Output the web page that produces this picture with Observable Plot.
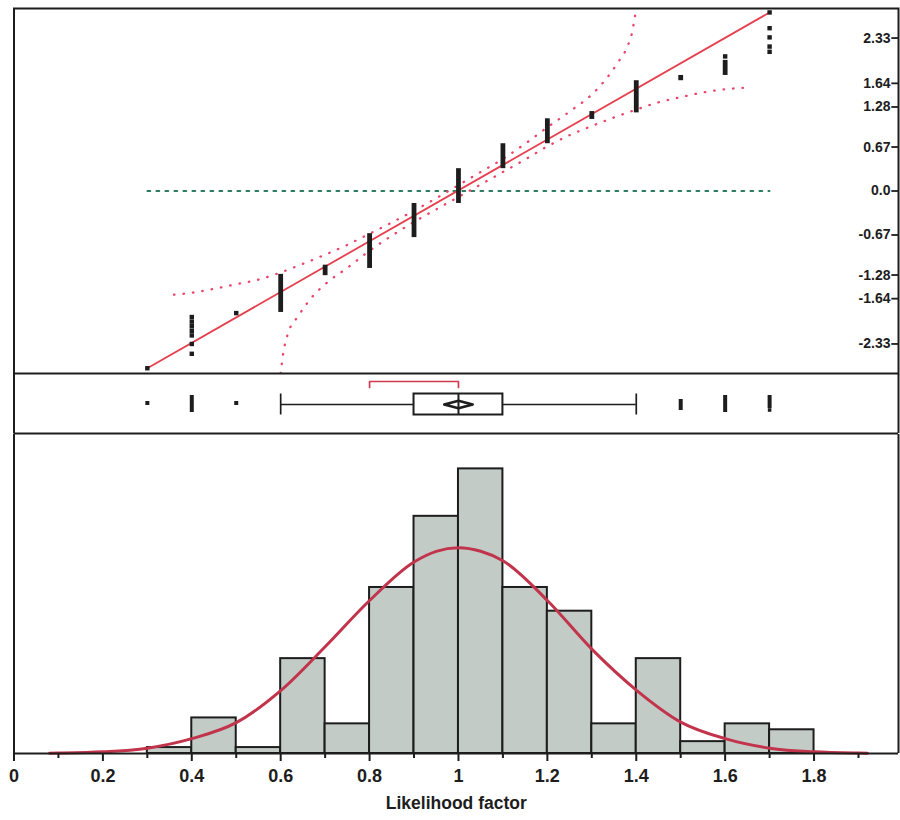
<!DOCTYPE html>
<html><head><meta charset="utf-8">
<script src="https://cdn.jsdelivr.net/npm/d3@7"></script>
<script src="https://cdn.jsdelivr.net/npm/@observablehq/plot@0.6"></script>
<style>
html,body{margin:0;padding:0;background:#fff;}
#chart svg{display:block;}
</style></head><body><div id="chart"></div>
<script>
// ---------------- data ----------------
// Histogram (values recorded at 0.1 steps; bins of width 0.1)
const binStarts = [0.3,0.4,0.5,0.6,0.7,0.8,0.9,1.0,1.1,1.2,1.3,1.4,1.5,1.6,1.7];
const binCounts = [1,6,1,16,5,28,40,48,28,24,5,16,2,5,4];
const binWidth = 0.1;

// Fitted normal curve (count scale)
const curveX = [0.08,0.1,0.2,0.3,0.4,0.5,0.6,0.7,0.8,0.9,0.95,1.0,1.05,1.1,1.2,1.3,1.4,1.5,1.6,1.7,1.8,1.9,1.92];
const curveY = [0.06,0.08,0.28,0.9,2.5,5.2,10.6,18.0,25.8,32.3,34.1,34.7,34.1,32.5,25.8,17.6,10.7,5.3,2.5,0.9,0.28,0.08,0.06];

// Normal quantile plot: stacked runs of tied values (normal quantile range)
const qqStackX  = [0.6, 0.7, 0.8, 0.9, 1.0, 1.1, 1.2, 1.3, 1.4, 1.5, 1.6];
const qqStackLo = [-1.85,-1.29,-1.18,-0.71,-0.19,0.34,0.72,1.09,1.19,1.68,1.76];
const qqStackHi = [-1.27,-1.13,-0.65,-0.19,0.34,0.72,1.10,1.21,1.68,1.76,1.99];
// single points
const qqDotX = [0.3, 0.4,0.4,0.4,0.4,0.4,0.4,0.4, 0.5, 1.6, 1.7,1.7,1.7,1.7,1.7];
const qqDotZ = [-2.70, -1.92,-1.99,-2.06,-2.13,-2.20,-2.33,-2.48, -1.86, 2.05, 2.72,2.48,2.34,2.20,2.12];

// Fitted normal line and the zero reference line
const fitLineX = [0.3, 1.7];
const fitLineZ = [-2.70, 2.72];
const refLineX = [0.3, 1.7];

// Confidence bands (dotted)
const bandUpperX = [0.36,0.40,0.45,0.50,0.55,0.60,0.65,0.70,0.75,0.80,0.85,0.90,0.95,1.00,1.05,1.10,1.15,1.20,1.25,1.30,1.33,1.36,1.38,1.39,1.395,1.40];
const bandUpperZ = [-1.58,-1.55,-1.49,-1.42,-1.35,-1.24,-1.11,-0.97,-0.82,-0.65,-0.48,-0.30,-0.11,0.09,0.29,0.49,0.72,0.97,1.21,1.47,1.69,1.97,2.20,2.40,2.58,2.78];
const bandLowerX = [0.60,0.605,0.615,0.64,0.67,0.70,0.75,0.80,0.85,0.90,0.95,1.00,1.05,1.10,1.15,1.20,1.25,1.30,1.35,1.40,1.45,1.50,1.55,1.60,1.64];
const bandLowerZ = [-2.78,-2.50,-2.20,-1.90,-1.62,-1.42,-1.17,-0.91,-0.68,-0.47,-0.28,-0.09,0.10,0.29,0.48,0.68,0.85,0.99,1.12,1.24,1.35,1.43,1.50,1.55,1.57];

// Normal quantile axis
const zTicks = [2.33, 1.64, 1.28, 0.67, 0, -0.67, -1.28, -1.64, -2.33];
const zTickLabels = ["2.33","1.64","1.28","0.67","0.0","-0.67","-1.28","-1.64","-2.33"];

// Outlier box plot statistics
const boxQ1 = 0.9, boxMedian = 1.0, boxQ3 = 1.1;
const whiskerLo = 0.6, whiskerHi = 1.4;
const meanValue = 1.0, meanCI = [0.968, 1.032];
const shortestHalf = [0.8, 1.0];
const outlierX = [0.3, 0.4, 0.5, 1.5, 1.6, 1.7];

// x axis
const xTicks = [0,0.2,0.4,0.6,0.8,1,1.2,1.4,1.6,1.8];
const xTickLabels = ["0","0.2","0.4","0.6","0.8","1","1.2","1.4","1.6","1.8"];
const xMinorTicks = [0.1,0.3,0.5,0.7,0.9,1.1,1.3,1.5,1.7,1.9];
const xTitle = "Likelihood factor";

// ---------------- drawing ----------------
const W = 900;
const xDomain = [0, 1.99];
const font = "'Liberation Sans', Arial, Helvetica, sans-serif";
const ink = "#1d1d1d";
const ML = 13.5, MR = 2;

// Panel 1 : normal quantile plot
const qqStacks = qqStackX.map((x,i)=>({x, lo: qqStackLo[i], hi: qqStackHi[i]}));
const qqDots = qqDotX.map((x,i)=>({x, z: qqDotZ[i]}));
const fit = fitLineX.map((x,i)=>({x, z: fitLineZ[i]}));
const ref = refLineX.map(x=>({x, z: 0}));
const upper = bandUpperX.map((x,i)=>({x, z: bandUpperZ[i]}));
const lower = bandLowerX.map((x,i)=>({x, z: bandLowerZ[i]}));
const zt = zTicks.map((z,i)=>({z, label: zTickLabels[i]}));

const p1 = Plot.plot({
  width: W, height: 374, marginTop: 8, marginBottom: 1, marginLeft: ML, marginRight: MR,
  x: {domain: xDomain, axis: null},
  y: {domain: [-2.78, 2.78], axis: null},
  style: {fontFamily: font, fontSize: "14px", fontWeight: "bold", background: "white", overflow: "visible", color: ink},
  marks: [
    Plot.line(ref, {x:"x", y:"z", stroke:"#2f7d62", strokeWidth:1.8, strokeDasharray:"3,6"}),
    Plot.line(upper, {x:"x", y:"z", curve:"monotone-x", stroke:"#ea4469", strokeWidth:2.3, strokeDasharray:"0.5,9", strokeLinecap:"round", clip:true}),
    Plot.line(lower, {x:"x", y:"z", curve:"monotone-x", stroke:"#ea4469", strokeWidth:2.3, strokeDasharray:"0.5,9", strokeLinecap:"round", clip:true}),
    Plot.line(fit, {x:"x", y:"z", stroke:"#e6404f", strokeWidth:1.8}),
    Plot.ruleX(qqStacks, {x:"x", y1:"lo", y2:"hi", stroke: ink, strokeWidth: 4.8}),
    Plot.dot(qqDots, {x:"x", y:"z", symbol:"square", r:2.5, fill: ink, stroke: "none"}),
    Plot.ruleY(zt, {y:"z", x1: () => xDomain[1] - 0.015, x2: () => xDomain[1], stroke: ink, strokeWidth: 1.8}),
    Plot.text(zt, {y:"z", text:"label", frameAnchor:"right", dx:-8, textAnchor:"end", fontWeight:"bold", fontSize:14, fill: ink}),
    Plot.frame({stroke: ink, strokeWidth: 2})
  ]
});

// Panel 2 : outlier box plot (y in pixel-like units above the panel bottom)
const yc = 29, boxHalf = 10.5;
const outlierSpans = [[30,30],[23,36],[30,30],[25,32],[23,36],[27,36]];
const outliers = outlierX.map((x,i)=>({x, y1: outlierSpans[i][0]-2, y2: outlierSpans[i][1]+2}));
const p2 = Plot.plot({
  width: W, height: 60, marginTop: 0, marginBottom: 1, marginLeft: ML, marginRight: MR,
  x: {domain: xDomain, axis: null},
  y: {domain: [0, 59], axis: null},
  style: {fontFamily: font, background: "white", overflow: "visible"},
  marks: [
    Plot.ruleY([{a: whiskerLo, b: boxQ1}, {a: boxQ3, b: whiskerHi}], {x1:"a", x2:"b", y: () => yc, stroke: ink, strokeWidth: 1.7}),
    Plot.ruleX([whiskerLo, whiskerHi], {x: d=>d, y1: () => yc-boxHalf, y2: () => yc+boxHalf, stroke: ink, strokeWidth: 1.7}),
    Plot.rect([{a: boxQ1, b: boxQ3}], {x1:"a", x2:"b", y1: () => yc-boxHalf, y2: () => yc+boxHalf, fill:"white", stroke: ink, strokeWidth: 2}),
    Plot.line([[meanCI[0], yc],[meanValue, yc+3.8],[meanCI[1], yc],[meanValue, yc-3.8],[meanCI[0], yc]],
      {x: d=>d[0], y: d=>d[1], stroke: ink, strokeWidth: 2.6}),
    Plot.ruleX([boxMedian], {x: d=>d, y1: () => yc-boxHalf, y2: () => yc+boxHalf, stroke: ink, strokeWidth: 2}),
    Plot.line([[shortestHalf[0], 46],[shortestHalf[0], 52],[shortestHalf[1], 52],[shortestHalf[1], 46]],
      {x: d=>d[0], y: d=>d[1], stroke:"#d23a50", strokeWidth: 1.7}),
    Plot.ruleX(outliers, {x:"x", y1:"y1", y2:"y2", stroke: ink, strokeWidth: 4}),
    Plot.dot([{x: outlierX[5], y: 23.5}], {x:"x", y:"y", symbol:"square", r:2, fill: ink, stroke:"none"}),
    Plot.ruleX(xDomain, {x: d=>d, stroke: ink, strokeWidth: 2}),
    Plot.ruleY([0], {y: d=>d, stroke: ink, strokeWidth: 2})
  ]
});

// Panel 3 : histogram with normal curve
const bins = binStarts.map((x,i)=>({x1: x, x2: x + binWidth, y: binCounts[i]}));
const curve = curveX.map((x,i)=>({x, y: curveY[i]}));
const p3 = Plot.plot({
  width: W, height: 386, marginTop: 0, marginBottom: 67, marginLeft: ML, marginRight: MR,
  x: {domain: xDomain},
  y: {domain: [0, 53.8], axis: null},
  style: {fontFamily: font, fontSize: "18px", fontWeight: "bold", background: "white", overflow: "visible", color: ink},
  marks: [
    Plot.rectY(bins, {x1:"x1", x2:"x2", y:"y", fill:"#c3cbc7", stroke: ink, strokeWidth: 2}),
    Plot.line(curve, {x:"x", y:"y", curve:"monotone-x", stroke:"#c1344b", strokeWidth: 3}),
    Plot.axisX({ticks: xMinorTicks, tickSize: 5, tickFormat: () => "", label: null, strokeWidth: 2}),
    Plot.axisX({ticks: xTicks, tickSize: 8, tickPadding: 8, tickFormat: d => xTickLabels[xTicks.indexOf(d)],
      label: null, fontSize: 18, fontWeight: "bold", strokeWidth: 2}),
    Plot.text([xTitle], {text: d=>d, frameAnchor: "bottom", dy: 55, fontSize: 17.5, fontWeight: "bold", fill: ink}),
    Plot.ruleX(xDomain, {x: d=>d, stroke: ink, strokeWidth: 2}),
    Plot.ruleY([0], {y: d=>d, stroke: ink, strokeWidth: 2})
  ]
});

const root = document.getElementById("chart");
root.append(p1, p2, p3);
</script>
</body></html>
